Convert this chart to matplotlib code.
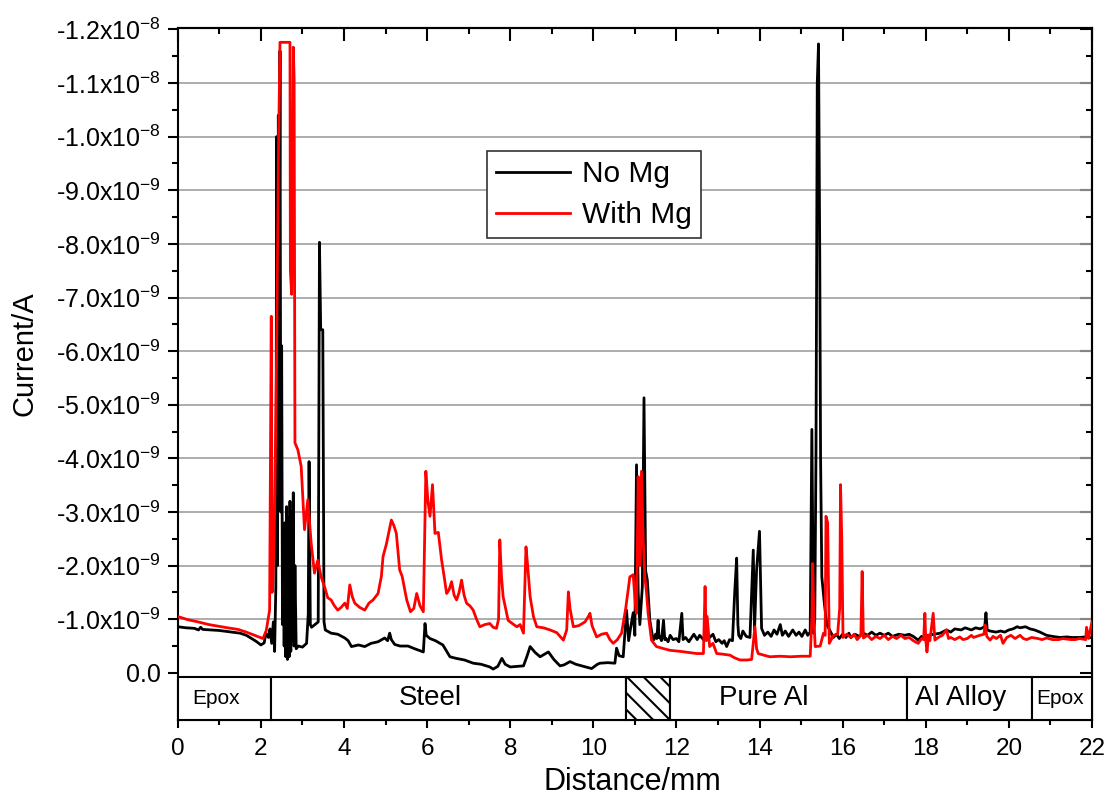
import numpy as np
import matplotlib
matplotlib.use("Agg")
import matplotlib.pyplot as plt
from matplotlib.patches import Rectangle

plt.rcParams['font.family'] = ['Liberation Sans', 'DejaVu Sans']
plt.rcParams['mathtext.fontset'] = 'custom'
plt.rcParams['mathtext.rm'] = 'Liberation Sans'
plt.rcParams['mathtext.it'] = 'Liberation Sans'
plt.rcParams['hatch.linewidth'] = 1.5

# ---------------- data (current magnitude in units of 1e-9 A) ----------------
black_x = [0.00, 0.20, 0.40, 0.50, 0.55, 0.60, 0.80, 1.00, 1.20, 1.40, 1.50, 1.65, 1.80, 1.90, 2.00,
           2.08, 2.12, 2.18, 2.22, 2.26, 2.30, 2.33, 2.36, 2.38, 2.40, 2.42, 2.44, 2.46, 2.48, 2.50,
           2.52, 2.54, 2.56, 2.58, 2.60, 2.62, 2.64, 2.66, 2.68, 2.70, 2.72, 2.74, 2.76, 2.78, 2.80,
           2.82, 2.85, 2.90, 3.00, 3.10, 3.14, 3.16, 3.19, 3.22, 3.30, 3.38, 3.41, 3.44, 3.49, 3.52,
           3.55, 3.69, 3.85, 4.02, 4.10, 4.18, 4.35, 4.50, 4.65, 4.82, 4.98, 5.05, 5.10, 5.14, 5.22,
           5.35, 5.54, 5.70, 5.91, 5.95, 5.98, 6.07, 6.20, 6.38, 6.55, 6.70, 6.90, 7.11, 7.30, 7.51,
           7.59, 7.70, 7.80, 7.88, 8.00, 8.16, 8.32, 8.40, 8.48, 8.60, 8.72, 8.85, 8.92, 9.05, 9.20,
           9.30, 9.44, 9.58, 9.72, 9.85, 9.96, 10.10, 10.16, 10.35, 10.52, 10.56, 10.62, 10.72, 10.80,
           10.85, 10.90, 10.96, 11.00, 11.04, 11.08, 11.12, 11.18, 11.22, 11.26, 11.30, 11.36,
           11.42, 11.46, 11.50, 11.53, 11.56, 11.58, 11.60, 11.64, 11.69, 11.72, 11.74, 11.80, 11.85,
           11.92, 12.00, 12.06, 12.13, 12.16, 12.22, 12.30, 12.35, 12.42, 12.50, 12.56, 12.65, 12.72,
           12.80, 12.88, 12.95, 13.02, 13.10, 13.15, 13.21, 13.28, 13.35, 13.40, 13.45, 13.48, 13.50,
           13.55, 13.60, 13.68, 13.77, 13.85, 13.88, 13.93, 14.00, 14.05, 14.12, 14.20, 14.28, 14.35,
           14.42, 14.50, 14.55, 14.62, 14.70, 14.80, 14.88, 14.95, 15.02, 15.10, 15.16, 15.22,
           15.26, 15.30, 15.33, 15.36, 15.39, 15.42, 15.45, 15.47, 15.50, 15.56, 15.62, 15.70, 15.78,
           15.85, 15.92, 16.00, 16.08, 16.15, 16.20, 16.30, 16.40, 16.50, 16.60, 16.70, 16.80, 16.90,
           17.00, 17.10, 17.20, 17.35, 17.50, 17.60, 17.70, 17.82, 17.90, 17.95, 18.05, 18.20, 18.35,
           18.50, 18.60, 18.70, 18.85, 18.95, 19.10, 19.20, 19.31, 19.42, 19.45, 19.48, 19.55, 19.69,
           19.80, 19.90, 20.00, 20.10, 20.20, 20.27, 20.40, 20.51, 20.62, 20.75, 20.91, 21.05, 21.23,
           21.40, 21.50, 21.70, 21.85, 21.95]
black_y = [0.86, 0.84, 0.83, 0.80, 0.85, 0.81, 0.80, 0.79, 0.77, 0.75, 0.74, 0.70, 0.63, 0.58, 0.52,
           0.56, 0.74, 0.66, 0.82, 0.55, 0.95, 0.40, 1.60, 10.0, 2.0, 10.4, 6.0, 11.6, 3.0, 6.1,
           0.9, 2.6, 0.5, 2.8, 0.3, 3.1, 0.25, 2.9, 0.3, 3.2, 0.4, 3.0, 0.6, 3.36, 0.5,
           2.0, 0.45, 0.50, 0.48, 0.55, 1.1, 3.94, 0.9, 0.85, 0.90, 0.95, 8.03, 6.4, 6.4, 0.95,
           0.80, 0.74, 0.72, 0.65, 0.60, 0.49, 0.52, 0.49, 0.55, 0.58, 0.65, 0.60, 0.74, 0.62, 0.53,
           0.50, 0.50, 0.45, 0.39, 0.92, 0.70, 0.64, 0.60, 0.52, 0.30, 0.27, 0.24, 0.18, 0.16, 0.11,
           0.07, 0.12, 0.27, 0.16, 0.11, 0.12, 0.13, 0.30, 0.49, 0.38, 0.30, 0.36, 0.39, 0.25, 0.13,
           0.15, 0.21, 0.16, 0.13, 0.10, 0.08, 0.16, 0.18, 0.19, 0.18, 0.46, 0.32, 0.30, 1.17,
           0.60, 0.85, 1.12, 0.70, 3.88, 1.5, 0.9, 1.6, 5.13, 1.9, 1.73, 0.98,
           0.70, 0.62, 0.72, 0.64, 0.98, 0.66, 0.68, 0.60, 0.98, 0.62, 0.65, 0.58, 0.70,
           0.62, 0.64, 0.58, 1.11, 0.62, 0.66, 0.58, 0.64, 0.72, 0.62, 0.70, 0.62, 0.74,
           0.66, 0.72, 0.58, 0.62, 0.55, 0.60, 0.49, 0.62, 0.60, 1.45, 2.14, 0.90, 0.70,
           0.64, 0.78, 0.68, 0.66, 2.29, 0.80, 1.92, 2.64, 0.83, 0.70, 0.76, 0.68, 0.80,
           0.72, 0.90, 0.70, 0.78, 0.68, 0.80, 0.70, 0.76, 0.68, 0.80, 0.70, 0.76,
           4.54, 0.74, 1.0, 4.16, 11.0, 11.73, 7.8, 4.0, 1.79, 1.30, 0.90, 0.78, 0.66,
           0.72, 0.64, 0.72, 0.66, 0.74, 0.66, 0.72, 0.68, 0.74, 0.70, 0.76, 0.70, 0.74,
           0.70, 0.74, 0.68, 0.72, 0.70, 0.72, 0.68, 0.61, 0.68, 0.64, 0.70, 0.72, 0.74,
           0.80, 0.76, 0.82, 0.80, 0.84, 0.80, 0.84, 0.82, 0.86, 1.12, 0.80, 0.78, 0.76,
           0.78, 0.76, 0.80, 0.82, 0.86, 0.84, 0.86, 0.82, 0.80, 0.76, 0.70, 0.68, 0.66,
           0.67, 0.66, 0.66, 0.67, 0.66]

red_x = [0.00, 0.25, 0.49, 0.75, 0.97, 1.20, 1.45, 1.65, 1.85, 2.05, 2.13, 2.21, 2.25, 2.27, 2.29,
         2.33, 2.38, 2.42, 2.46, 2.70, 2.71, 2.74, 2.76, 2.78, 2.80, 2.82, 2.89, 2.97, 3.05, 3.13,
         3.21, 3.29, 3.37, 3.45, 3.53, 3.61, 3.69, 3.77, 3.85, 3.93, 4.02, 4.08, 4.14, 4.20, 4.26,
         4.38, 4.50, 4.60, 4.70, 4.82, 4.90, 4.94, 5.02, 5.10, 5.14, 5.20, 5.26, 5.34, 5.40, 5.51,
         5.60, 5.68, 5.75, 5.83, 5.91, 5.97, 6.02, 6.07, 6.13, 6.19, 6.27, 6.35, 6.41, 6.47, 6.53,
         6.59, 6.65, 6.71, 6.77, 6.83, 6.89, 6.95, 7.03, 7.11, 7.19, 7.27, 7.39, 7.51, 7.59, 7.67,
         7.72, 7.75, 7.79, 7.83, 7.89, 7.95, 8.05, 8.16, 8.24, 8.32, 8.38, 8.42, 8.48, 8.56, 8.64,
         8.80, 8.96, 9.12, 9.28, 9.36, 9.40, 9.44, 9.52, 9.65, 9.80, 9.88, 9.92, 9.97, 10.08, 10.20,
         10.32, 10.40, 10.48, 10.58, 10.68, 10.78, 10.88, 10.96, 11.02, 11.04, 11.08, 11.12, 11.16,
         11.20, 11.24, 11.28, 11.32, 11.40, 11.52, 11.70, 11.85, 12.10, 12.30, 12.49, 12.65, 12.69,
         12.72, 12.74, 12.80, 12.88, 12.97, 13.10, 13.29, 13.40, 13.53, 13.70, 13.81, 13.87, 13.89,
         13.93, 13.97, 14.10, 14.25, 14.50, 14.75, 15.00, 15.22, 15.26, 15.28, 15.31, 15.34, 15.46,
         15.54, 15.58, 15.60, 15.64, 15.68, 15.78, 15.88, 15.93, 15.95, 15.98,
         16.01, 16.10, 16.20, 16.28, 16.35, 16.44, 16.47, 16.50, 16.60, 16.70, 16.80, 16.90, 17.00,
         17.10, 17.20, 17.30, 17.40, 17.50, 17.60, 17.70, 17.82, 17.90, 17.95, 17.98, 18.00, 18.03,
         18.07, 18.10, 18.18, 18.22, 18.30, 18.40, 18.50, 18.55, 18.60, 18.70, 18.82, 18.90, 19.00,
         19.10, 19.15, 19.30, 19.40, 19.43, 19.47, 19.55, 19.62, 19.70, 19.80, 19.86, 19.95, 20.05,
         20.15, 20.27, 20.35, 20.43, 20.55, 20.70, 20.80, 20.91, 21.05, 21.20, 21.30, 21.39, 21.50,
         21.60, 21.70, 21.85, 21.87, 21.92, 22.00]
red_y = [1.05, 0.99, 0.95, 0.90, 0.87, 0.84, 0.81, 0.76, 0.70, 0.64, 0.79, 1.17, 6.65, 1.5, 1.73,
         2.98, 6.0, 9.5, 11.76, 11.76, 7.5, 7.06, 9.0, 11.67, 11.08, 4.29, 4.16, 3.85, 2.67, 3.23,
         2.42, 1.86, 2.10, 1.79, 1.61, 1.40, 1.36, 1.25, 1.17, 1.22, 1.30, 1.20, 1.64, 1.42, 1.30,
         1.22, 1.17, 1.30, 1.36, 1.48, 1.80, 2.17, 2.40, 2.70, 2.85, 2.75, 2.60, 1.92, 1.80, 1.36,
         1.14, 1.20, 1.48, 1.25, 1.14, 3.76, 3.2, 2.92, 3.51, 2.60, 2.62, 2.10, 1.80, 1.48, 1.55,
         1.70, 1.45, 1.36, 1.50, 1.73, 1.45, 1.30, 1.25, 1.17, 1.00, 0.86, 0.90, 0.92, 0.85, 0.83,
         1.0, 2.48, 1.80, 1.42, 1.20, 0.98, 0.92, 0.86, 0.90, 0.74, 2.35, 2.0, 1.42, 1.05, 0.86,
         0.84, 0.80, 0.75, 0.61, 0.80, 1.51, 1.20, 0.86, 0.88, 0.95, 1.05, 1.11, 0.88, 0.67, 0.72,
         0.74, 0.62, 0.55, 0.62, 0.74, 1.20, 1.79, 1.83, 1.20, 1.11, 3.66, 2.0, 3.76,
         2.5, 1.8, 1.50, 1.11, 0.61, 0.49, 0.45, 0.42, 0.40, 0.38, 0.36, 0.36, 1.61,
         0.60, 1.05, 0.49, 0.55, 0.36, 0.35, 0.33, 0.28, 0.24, 0.24, 0.25, 0.70, 0.86,
         0.45, 0.36, 0.33, 0.30, 0.31, 0.30, 0.31, 0.31, 1.0, 2.04, 1.0, 0.49, 0.50,
         0.74, 0.70, 2.92, 2.80, 0.55, 0.70, 0.72, 1.20, 3.51, 2.5,
         0.66, 0.72, 0.66, 0.72, 0.62, 0.70, 1.89, 0.65, 0.70, 0.62, 0.68, 0.64, 0.70,
         0.62, 0.68, 0.64, 0.70, 0.64, 0.66, 0.60, 0.55, 0.64, 0.62, 1.11, 0.62, 0.39,
         0.70, 0.60, 1.11, 0.61, 0.66, 0.70, 0.80, 0.64, 0.66, 0.62, 0.67, 0.62, 0.64,
         0.70, 0.66, 0.70, 0.72, 0.89, 0.68, 0.61, 0.68, 0.64, 0.70, 0.55, 0.66, 0.70,
         0.64, 0.70, 0.64, 0.62, 0.66, 0.64, 0.62, 0.65, 0.62, 0.62, 0.64, 0.63, 0.62,
         0.62, 0.64, 0.62, 0.85, 0.64, 0.95]

series_labels = ["No Mg", "With Mg"]

region_names = ["Epox", "Steel", "", "Pure Al", "Al Alloy", "Epox"]
region_edges = [0.0, 2.24, 10.79, 11.85, 17.56, 20.55, 22.0]
region_label_x = [0.93, 6.09, 11.3, 14.1, 18.84, 21.23]
region_fontsizes = [15, 20, 20, 20, 20, 15]
region_hatch = [None, None, '\\\\', None, None, None]

ytick_vals = [-12, -11, -10, -9, -8, -7, -6, -5, -4, -3, -2, -1, 0]
ytick_labels = [r"-1.2x10$^{-8}$", r"-1.1x10$^{-8}$", r"-1.0x10$^{-8}$",
                r"-9.0x10$^{-9}$", r"-8.0x10$^{-9}$", r"-7.0x10$^{-9}$", r"-6.0x10$^{-9}$",
                r"-5.0x10$^{-9}$", r"-4.0x10$^{-9}$", r"-3.0x10$^{-9}$", r"-2.0x10$^{-9}$",
                r"-1.0x10$^{-9}$", "0.0"]

# ---------------- figure ----------------
fig = plt.figure(figsize=(11.09, 7.95), dpi=100)
ax = fig.add_axes([0.1603, 0.0943, 0.8243, 0.870])

scale = 1e-9
bx = np.array(black_x)
by = -np.array(black_y) * scale
rx = np.array(red_x)
ry = -np.array(red_y) * scale

ax.plot(bx, by, color='black', lw=2.0, label=series_labels[0], zorder=3)
ax.plot(rx, ry, color='#ff0000', lw=2.0, label=series_labels[1], zorder=4)

ax.set_xlim(0, 22)
ax.set_ylim(0.88e-9, -12.02e-9)

yt = [v * scale for v in ytick_vals]
ax.set_yticks(yt, ytick_labels)
ax.set_yticks([(v + 0.5) * scale for v in ytick_vals[:-1]], minor=True)
ax.set_xticks(range(0, 23, 2))
ax.set_xticks(range(1, 22, 2), minor=True)

ax.tick_params(axis='y', which='major', direction='out', length=7.5, width=1.5, labelsize=18, pad=5)
ax.tick_params(axis='y', which='minor', direction='out', length=4, width=1.5)
ax.tick_params(axis='x', which='major', direction='out', length=6, width=1.5, labelsize=17.5, pad=7)
ax.tick_params(axis='x', which='minor', direction='out', length=3.5, width=1.5)

for s in ax.spines.values():
    s.set_linewidth(1.5)

# gridlines
for v in ytick_vals[1:-1]:
    ax.axhline(v * scale, color='#a0a0a0', lw=1.2, zorder=1)

# mirrored inward ticks on top and right
secx = ax.secondary_xaxis('top')
secx.set_xticks(range(0, 23, 2))
secx.set_xticks(range(1, 22, 2), minor=True)
secx.tick_params(which='major', direction='in', length=9, width=1.5, labeltop=False)
secx.tick_params(which='minor', direction='in', length=4.5, width=1.5)
secx.spines['top'].set_linewidth(1.5)

secy = ax.secondary_yaxis('right')
secy.set_yticks(yt)
secy.set_yticks([(v + 0.5) * scale for v in ytick_vals[:-1]], minor=True)
secy.tick_params(which='major', direction='in', length=9, width=1.5, labelright=False)
secy.tick_params(which='minor', direction='in', length=4.5, width=1.5)
secy.spines['right'].set_linewidth(1.5)

# region bar
bar_top = 0.07e-9
bar_bot = 0.88e-9
for i, name in enumerate(region_names):
    x0, x1 = region_edges[i], region_edges[i + 1]
    rect = Rectangle((x0, bar_top), x1 - x0, bar_bot - bar_top, facecolor='white',
                     edgecolor='black', lw=1.5, hatch=region_hatch[i], zorder=6, clip_on=False)
    ax.add_patch(rect)
    if name:
        ax.text(region_label_x[i], 0.47e-9, name, ha='center', va='center',
                fontsize=region_fontsizes[i], zorder=7)

ax.set_xlabel("Distance/mm", fontsize=22)
ax.xaxis.label.set_va('center')
ax.xaxis.set_label_coords(0.497, -0.089)
ax.set_ylabel("Current/A", fontsize=21)
ax.yaxis.set_label_coords(-0.152, 0.53)

leg = ax.legend(loc='upper left', bbox_to_anchor=(0.338, 0.822), fontsize=21.5, frameon=True,
                fancybox=False, edgecolor='#333333', framealpha=1, handlelength=2.5,
                handletextpad=0.4, labelspacing=0.42, borderpad=0.3, borderaxespad=0)
leg.get_frame().set_linewidth(1.2)
for line in leg.get_lines():
    line.set_linewidth(2.0)

fig.savefig("out.png", dpi=100)
